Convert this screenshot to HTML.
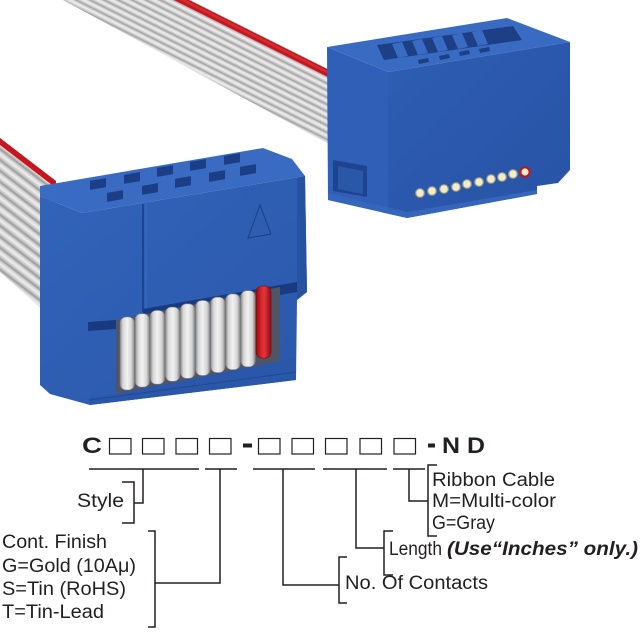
<!DOCTYPE html>
<html><head><meta charset="utf-8"><style>
html,body{margin:0;padding:0;background:#fff;}
svg{display:block;}
text{font-family:"Liberation Sans",Arial,sans-serif;fill:#231f20;}
</style></head><body>
<svg width="640" height="640" viewBox="0 0 640 640" xmlns="http://www.w3.org/2000/svg">
<defs>
 <linearGradient id="ribL" gradientUnits="userSpaceOnUse" x1="0" y1="138" x2="-5.3" y2="144.9" spreadMethod="repeat">
  <stop offset="0" stop-color="#9a9a9a"/>
  <stop offset="0.25" stop-color="#d6d6d6"/>
  <stop offset="0.5" stop-color="#eeeeee"/>
  <stop offset="0.8" stop-color="#c6c6c6"/>
  <stop offset="1" stop-color="#9a9a9a"/>
 </linearGradient>
 <linearGradient id="ribT" gradientUnits="userSpaceOnUse" x1="174" y1="0" x2="171.2" y2="5.6" spreadMethod="repeat">
  <stop offset="0" stop-color="#a0a0a0"/>
  <stop offset="0.25" stop-color="#d8d8d8"/>
  <stop offset="0.5" stop-color="#efefef"/>
  <stop offset="0.8" stop-color="#c8c8c8"/>
  <stop offset="1" stop-color="#a0a0a0"/>
 </linearGradient>
 <linearGradient id="loopW" x1="0" y1="0" x2="1" y2="0">
  <stop offset="0" stop-color="#8a8a8a"/>
  <stop offset="0.2" stop-color="#d6d6d6"/>
  <stop offset="0.5" stop-color="#f2f2f2"/>
  <stop offset="0.8" stop-color="#d2d2d2"/>
  <stop offset="1" stop-color="#858585"/>
 </linearGradient>
 <linearGradient id="loopR" x1="0" y1="0" x2="1" y2="0">
  <stop offset="0" stop-color="#8c0c10"/>
  <stop offset="0.3" stop-color="#d0222a"/>
  <stop offset="0.55" stop-color="#e3363c"/>
  <stop offset="1" stop-color="#900c12"/>
 </linearGradient>
 <linearGradient id="frontL" x1="0" y1="0" x2="1" y2="1">
  <stop offset="0" stop-color="#3264ba"/>
  <stop offset="1" stop-color="#2a57aa"/>
 </linearGradient>
 <linearGradient id="frontR" x1="0" y1="0" x2="1" y2="1">
  <stop offset="0" stop-color="#2e5db2"/>
  <stop offset="1" stop-color="#2853a6"/>
 </linearGradient>
</defs>

<!-- top ribbon -->
<polygon points="63,0 190,0 332,71 332,146" fill="url(#ribT)"/>
<polygon points="174,0 189,0 332,71.5 332,79" fill="#c8161e"/>
<polygon points="180,0 186,0 332,73 332,76" fill="#e0383e" opacity="0.6"/>

<!-- left ribbon -->
<polygon points="0,138 56,181 56,322 0,272" fill="url(#ribL)"/>
<polygon points="0,138 56,181 56,188 0,145" fill="#c8161e"/>

<!-- RIGHT CONNECTOR -->
<polygon points="327,47 507,18 570,42 388,72" fill="#3a6bc2"/>
<polygon points="327,47 388,72 388,213 407,218 328,200" fill="#2f5fb6"/>
<polygon points="388,72 570,42 570,170 558,183 537,186 537,194 407,218 388,213" fill="url(#frontR)"/>
<polygon points="328,193 407,212 407,218 328,200" fill="#3566bb"/>
<polygon points="407,212 537,190 537,194 407,218" fill="#3566bb"/>
<!-- top slots -->
<polygon points="377,45 513,26 522,40 384,60" fill="#1c3f86"/>
<polygon points="392,44 402,42 408,56 398,58" fill="#3a6bc2"/>
<polygon points="412,41 422,39 428,53 418,55" fill="#3a6bc2"/>
<polygon points="432,38 442,36 448,50 438,52" fill="#3a6bc2"/>
<polygon points="452,35 462,33 468,47 458,49" fill="#3a6bc2"/>
<polygon points="472,32 482,30 488,44 478,46" fill="#3a6bc2"/>
<polygon points="418,60 428,58 429,62 419,64" fill="#1c3f86"/>
<polygon points="439,56 449,54 450,58 440,60" fill="#1c3f86"/>
<polygon points="459,52 469,50 470,54 460,56" fill="#1c3f86"/>
<polygon points="479,49 489,47 490,51 480,53" fill="#1c3f86"/>
<!-- recess left face -->
<polygon points="333,160 367,166 367,197 333,191" fill="#1e4490"/>
<polygon points="338,166 363,171 363,194 338,189" fill="#2a58a8"/>
<!-- pins -->
<g stroke="#9a9a8a" stroke-width="1.2" fill="#f3eccb">
<circle cx="420" cy="193" r="4.3"/>
<circle cx="432" cy="191" r="4.3"/>
<circle cx="444" cy="189" r="4.3"/>
<circle cx="456" cy="187" r="4.3"/>
<circle cx="467" cy="184" r="4.3"/>
<circle cx="479" cy="182" r="4.3"/>
<circle cx="491" cy="179" r="4.3"/>
<circle cx="502" cy="177" r="4.3"/>
<circle cx="513" cy="174" r="4.3"/>
</g>
<circle cx="525" cy="172" r="4.6" fill="#f3eccb" stroke="#c0141c" stroke-width="2"/>

<!-- LEFT CONNECTOR -->
<polygon points="40,186 263,148 292,159 305,176 82,213 40,196" fill="#3a6bc2"/>
<polygon points="40,196 82,213 305,176 307,292 297,300 296,380 90,405 50,394 40,385" fill="url(#frontL)"/>
<polygon points="297,178 305,176 307,292 297,300" fill="#2752a2"/>
<!-- holes -->
<g fill="#1b3e86">
<rect x="-8" y="-4.5" width="16" height="9" transform="translate(98,184) skewY(-10)"/>
<rect x="-8" y="-4.5" width="16" height="9" transform="translate(132,178) skewY(-10)"/>
<rect x="-8" y="-4.5" width="16" height="9" transform="translate(165,171) skewY(-10)"/>
<rect x="-8" y="-4.5" width="16" height="9" transform="translate(198,165) skewY(-10)"/>
<rect x="-8" y="-4.5" width="16" height="9" transform="translate(232,159) skewY(-10)"/>
<rect x="-8" y="-4.5" width="16" height="9" transform="translate(115,196) skewY(-10)"/>
<rect x="-8" y="-4.5" width="16" height="9" transform="translate(150,189) skewY(-10)"/>
<rect x="-8" y="-4.5" width="16" height="9" transform="translate(183,182) skewY(-10)"/>
<rect x="-8" y="-4.5" width="16" height="9" transform="translate(217,176) skewY(-10)"/>
<rect x="-8" y="-4.5" width="16" height="9" transform="translate(248,170) skewY(-10)"/>
</g>
<!-- triangle -->
<polygon points="260,205 248,238 271,234" fill="none" stroke="#1d3f80" stroke-width="1"/>
<!-- slit -->
<line x1="143" y1="204" x2="143" y2="312" stroke="#1f4590" stroke-width="2"/>
<line x1="146" y1="204" x2="146" y2="310" stroke="#3a6bc2" stroke-width="1"/>
<!-- slot -->
<polygon points="143,309 297,282 297,292 143,319" fill="#183a7e"/>
<polygon points="88,322 143,318 143,327 88,331" fill="#183a7e"/>
<!-- recess behind loops -->
<polygon points="116,320 280,287 280,362 116,396" fill="#4e5566"/>
<!-- loops -->
<g fill="url(#loopW)" stroke="#7d7d7d" stroke-width="0.6">
<rect x="120" y="317" width="14.5" height="73" rx="6"/>
<rect x="135.1" y="313.7" width="14.5" height="73.4" rx="6"/>
<rect x="150.2" y="310.4" width="14.5" height="73.8" rx="6"/>
<rect x="165.3" y="307.1" width="14.5" height="74.2" rx="6"/>
<rect x="180.4" y="303.8" width="14.5" height="74.6" rx="6"/>
<rect x="195.5" y="300.5" width="14.5" height="75" rx="6"/>
<rect x="210.6" y="297.2" width="14.5" height="75.4" rx="6"/>
<rect x="225.7" y="293.9" width="14.5" height="75.8" rx="6"/>
<rect x="240.8" y="290.6" width="14.5" height="76.2" rx="6"/>
</g>
<rect x="256" y="286" width="15" height="72" rx="6" fill="url(#loopR)" stroke="#7a0a0e" stroke-width="0.6"/>
<!-- bottom lip -->
<polygon points="116,394 280,361 296,358 296,380 90,405 88,398" fill="#2a57aa"/>
<line x1="90" y1="400" x2="296" y2="372" stroke="#23498f" stroke-width="1"/>

<!-- PART NUMBER -->
<text x="82" y="453" font-weight="bold" font-size="22" textLength="20" lengthAdjust="spacingAndGlyphs">C</text>
<g fill="none" stroke="#231f20" stroke-width="1.2">
<rect x="109.5" y="438.5" width="21.5" height="15.5"/>
<rect x="142.5" y="438.5" width="21.5" height="15.5"/>
<rect x="176" y="438.5" width="21.5" height="15.5"/>
<rect x="209.5" y="438.5" width="21.5" height="15.5"/>
<rect x="258.5" y="438.5" width="21.5" height="15.5"/>
<rect x="292" y="438.5" width="21.5" height="15.5"/>
<rect x="325.5" y="438.5" width="21.5" height="15.5"/>
<rect x="360" y="438.5" width="21.5" height="15.5"/>
<rect x="394" y="438.5" width="21.5" height="15.5"/>
</g>
<rect x="243" y="443.5" width="9" height="4" fill="#231f20"/>
<rect x="428" y="443.5" width="7" height="4" fill="#231f20"/>
<text x="442" y="453" font-weight="bold" font-size="22" textLength="18" lengthAdjust="spacingAndGlyphs">N</text>
<text x="467" y="453" font-weight="bold" font-size="22" textLength="18" lengthAdjust="spacingAndGlyphs">D</text>

<!-- LINES -->
<g stroke="#231f20" stroke-width="1.5" fill="none">
<line x1="89" y1="469" x2="199" y2="469"/>
<line x1="205" y1="469" x2="237" y2="469"/>
<line x1="253" y1="469" x2="315" y2="469"/>
<line x1="323" y1="469" x2="387" y2="469"/>
<line x1="393" y1="469" x2="425" y2="469"/>
<polyline points="143,469 143,503 134,503"/>
<polyline points="122,482 134,482 134,523 122,523"/>
<polyline points="220,469 220,583 155,583"/>
<polyline points="148,531 155,531 155,627 148,627"/>
<polyline points="283,469 283,585 339,585"/>
<polyline points="347,557 339,557 339,603 347,603"/>
<polyline points="356,469 356,548 384,548"/>
<polyline points="393,531 384,531 384,575 393,575"/>
<polyline points="409,469 409,501 428,501"/>
<polyline points="437,465 428,465 428,536 437,536"/>
</g>

<!-- LABELS -->
<g font-size="19">
<text x="77" y="507" textLength="47" lengthAdjust="spacingAndGlyphs">Style</text>
<text x="2" y="548" textLength="105" lengthAdjust="spacingAndGlyphs">Cont. Finish</text>
<text x="2" y="572" textLength="134" lengthAdjust="spacingAndGlyphs">G=Gold (10Aμ)</text>
<text x="2" y="595" textLength="124" lengthAdjust="spacingAndGlyphs">S=Tin (RoHS)</text>
<text x="2" y="618" textLength="102" lengthAdjust="spacingAndGlyphs">T=Tin-Lead</text>
<text x="432" y="486" textLength="123" lengthAdjust="spacingAndGlyphs">Ribbon Cable</text>
<text x="432" y="507" textLength="124" lengthAdjust="spacingAndGlyphs">M=Multi-color</text>
<text x="432" y="529" textLength="63" lengthAdjust="spacingAndGlyphs">G=Gray</text>
<text x="389" y="555" textLength="53" lengthAdjust="spacingAndGlyphs">Length</text>
<text x="447" y="555" font-weight="bold" font-style="italic" textLength="191" lengthAdjust="spacingAndGlyphs">(Use“Inches” only.)</text>
<text x="345" y="589" textLength="143" lengthAdjust="spacingAndGlyphs">No. Of Contacts</text>
</g>
</svg>
</body></html>
